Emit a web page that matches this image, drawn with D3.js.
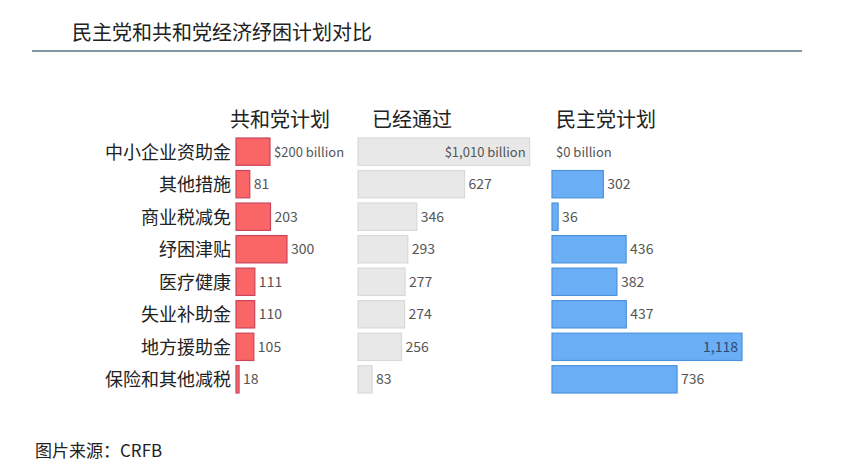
<!DOCTYPE html>
<html><head><meta charset="utf-8">
<script src="https://cdn.jsdelivr.net/npm/d3@7"></script>
<style>body{margin:0;background:#fff}text{font-family:"Noto Sans CJK SC",sans-serif}</style>
</head><body>
<script>
var categories = ["中小企业资助金","其他措施","商业税减免","纾困津贴","医疗健康","失业补助金","地方援助金","保险和其他减税"];
var repPlan = [200,81,203,300,111,110,105,18];
var passed = [1010,627,346,293,277,274,256,83];
var demPlan = [0,302,36,436,382,437,1118,736];
var columns = [
  {name:"共和党计划", data:repPlan, x:236, fill:"#fa6566", stroke:"#c9455c", hx:230},
  {name:"已经通过", data:passed, x:358, fill:"#e8e8e8", stroke:"#d9d9d9", hx:372},
  {name:"民主党计划", data:demPlan, x:552, fill:"#6aaef6", stroke:"#4b92dc", hx:556}
];

var svg = d3.select("body").append("svg").attr("width",850).attr("height",471);

svg.append("text").attr("x",72).attr("y",40).attr("font-size",20).attr("fill","#222").text("民主党和共和党经济纾困计划对比");
svg.append("line").attr("x1",32).attr("x2",802).attr("y1",51).attr("y2",51).attr("stroke","#5d7382").attr("stroke-width",1.5);

var w = d3.scaleLinear().domain([0,1118]).range([0,190]);
var y = d3.scaleBand().domain(categories).range([138,393]).paddingInner(0.16);

svg.selectAll("text.cat").data(categories).enter().append("text")
  .attr("class","cat").attr("x",231).attr("y",function(d){return y(d)+y.bandwidth()/2+7})
  .attr("text-anchor","end").attr("font-size",18).attr("fill","#222").text(function(d){return d});

function fmt(v,i){ var s=d3.format(",")(v); return i==0 ? "$"+s+" billion" : s; }

columns.forEach(function(c){
  svg.append("text").attr("x",c.hx).attr("y",127).attr("font-size",20).attr("fill","#222").text(c.name);
  var g = svg.append("g");
  g.selectAll("rect").data(c.data).enter().append("rect")
    .attr("x",c.x).attr("y",function(d,i){return y(categories[i])})
    .attr("width",function(d){return w(d)}).attr("height",y.bandwidth())
    .attr("fill",c.fill).attr("stroke",function(d){return d>0?c.stroke:"none"}).attr("stroke-width",1.2);
  g.selectAll("text").data(c.data).enter().append("text")
    .attr("x",function(d){return w(d)>150 ? c.x+w(d)-4 : c.x+w(d)+4})
    .attr("text-anchor",function(d){return w(d)>150?"end":"start"})
    .attr("y",function(d,i){return y(categories[i])+y.bandwidth()/2+5})
    .attr("font-size",function(d,i){return i==0?13:14})
    .attr("font-family","Lato, sans-serif")
    .attr("fill",function(d){return w(d)>150 && c.fill!="#e8e8e8" ? "#2a4a70" : "#555"})
    .text(fmt);
});

svg.append("text").attr("x",35).attr("y",457).attr("font-size",17).attr("fill","#222").text("图片来源：CRFB");
</script>
</body></html>
